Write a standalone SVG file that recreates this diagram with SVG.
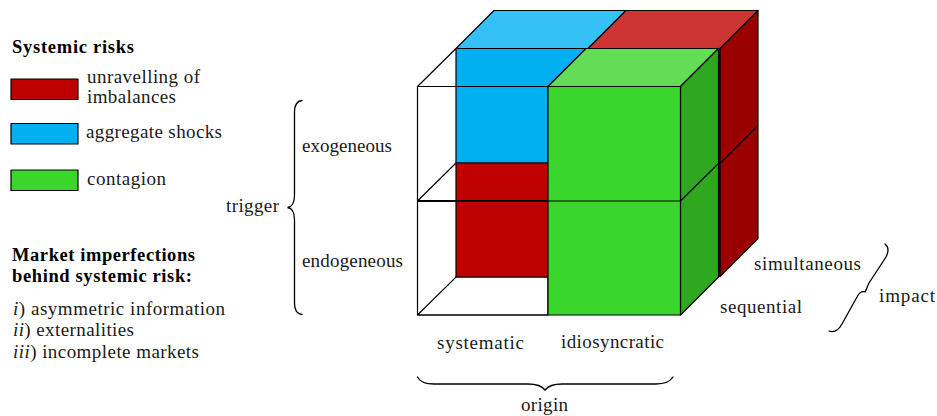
<svg xmlns="http://www.w3.org/2000/svg" width="937" height="416" viewBox="0 0 937 416">
<style>
text{font-family:"Liberation Serif","Times New Roman",serif;font-size:19px;fill:#1a1a1a}
.b{font-weight:bold;fill:#000;font-size:18.500px}
.i{font-style:italic}
.s{stroke:#000;stroke-width:1.2;stroke-linejoin:round}
.l{fill:none;stroke:#000;stroke-width:1.2}
.br{fill:none;stroke:#000;stroke-width:1.3;stroke-linecap:round}
.r{fill:#bf0000}.u{fill:#00b0f0}.g{fill:#3bd62b}
</style>
<rect width="937" height="416" fill="#fff"/>
<g id="cube">
<path class="l" d="M417.500 86.500H548V315H417.500ZM417.500 201H548M417.500 86.500L456 48.500M417.500 201L456 163M417.500 315L456 277H548"/>
<path class="s" fill="#9a0000" d="M720 48.500L758 10.500V238.500L720 276.500Z"/>
<path class="l" d="M720 163.500L758 125.500"/>
<path class="s" fill="#35c0f6" d="M456 48.500L494 10.500H626L588 48.500Z"/>
<path class="s" fill="#cd3535" d="M588 48.500L626 10.500H758L720 48.500Z"/>
<path class="s u" d="M456 48.500H586L548 86.500V163H456Z"/>
<rect class="s r" x="456" y="163" width="92" height="114"/>
<path d="M719.500 48.500V277" fill="none" stroke="#300" stroke-width="2"/>
<path class="s" fill="#62dd55" d="M548 86.500L586 48.500H718.500L680.500 86.500Z"/>
<path class="s" fill="#2fa81f" d="M680.500 86.500L718.500 48.500V277L680.500 315Z"/>
<rect class="s g" x="548" y="86.500" width="132.500" height="228.500"/>
<path class="l" d="M417.500 86.500H548M417.500 201H680.500L720 162M417.500 315H548"/>
<path d="M417.500 201H548" fill="none" stroke="#000" stroke-width="1.800"/>
</g>
<g id="legend">
<text class="b" x="12" y="53" textLength="122" lengthAdjust="spacing">Systemic risks</text>
<rect class="s r" x="11" y="79" width="67" height="20.500"/>
<text x="87" y="83" textLength="113" lengthAdjust="spacing">unravelling of</text>
<text x="87" y="103" textLength="89" lengthAdjust="spacing">imbalances</text>
<rect class="s u" x="11" y="123.500" width="67" height="20.500"/>
<text x="86" y="138" textLength="136" lengthAdjust="spacing">aggregate shocks</text>
<rect class="s g" x="11" y="170" width="67" height="20.500"/>
<text x="87" y="185" textLength="79" lengthAdjust="spacing">contagion</text>
</g>
<g id="imperfections">
<text class="b" x="12" y="261" textLength="183" lengthAdjust="spacing">Market imperfections</text>
<text class="b" x="12" y="282" textLength="180" lengthAdjust="spacing">behind systemic risk:</text>
<text x="13" y="315" textLength="212" lengthAdjust="spacing"><tspan class="i">i</tspan>) asymmetric information</text>
<text x="13" y="336" textLength="121" lengthAdjust="spacing"><tspan class="i">ii</tspan>) externalities</text>
<text x="13" y="358" textLength="186" lengthAdjust="spacing"><tspan class="i">iii</tspan>) incomplete markets</text>
</g>
<g id="trigger">
<path class="br" d="M302 100.500C297 101 294.500 105 294.500 112V195C294.500 202 292 207 287.500 207.500C292 208 294.500 213 294.500 220V303C294.500 310 297 314 302 314.500"/>
<text x="226" y="212" textLength="53" lengthAdjust="spacing">trigger</text>
<text x="302" y="152" textLength="90" lengthAdjust="spacing">exogeneous</text>
<text x="302" y="267" textLength="101" lengthAdjust="spacing">endogeneous</text>
</g>
<g id="impact">
<path class="br" d="M885 244C889 247 889 251 886 257L869 283C867 287 866 291 865 292C862 291 859 293 857 297L842 324C838 331 834 333 829 331"/>
<text x="754" y="270" textLength="107" lengthAdjust="spacing">simultaneous</text>
<text x="720" y="313" textLength="82" lengthAdjust="spacing">sequential</text>
<text x="879" y="302" textLength="56" lengthAdjust="spacing">impact</text>
</g>
<g id="origin">
<path class="br" d="M417.500 377C420 382 426 384 434 384H528C536 384 542 386 545 390C548 386 554 384 562 384H656C664 384 670 382 673 377"/>
<text x="437" y="349" textLength="87" lengthAdjust="spacing">systematic</text>
<text x="561" y="348" textLength="103" lengthAdjust="spacing">idiosyncratic</text>
<text x="521" y="411" textLength="47" lengthAdjust="spacing">origin</text>
</g>
</svg>
